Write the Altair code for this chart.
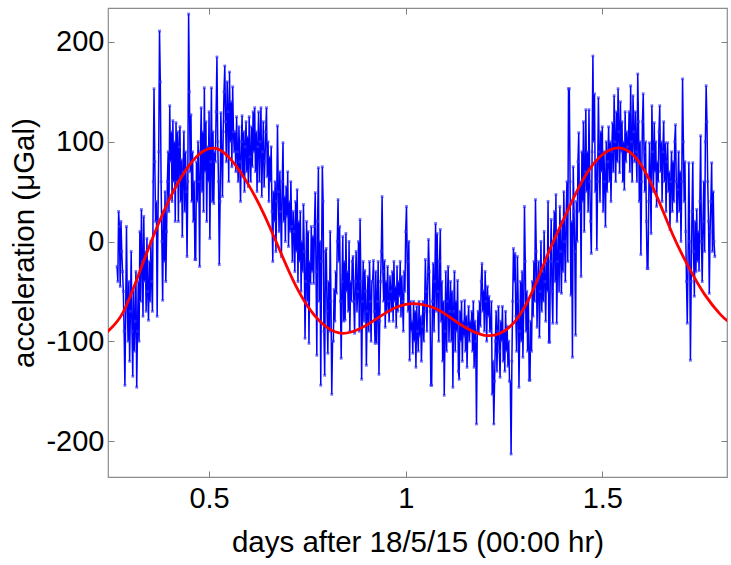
import altair as alt
import pandas as pd

# Gravimeter record: one sample every 0.002 day starting at day 0.266
SAMPLE_START = 0.266
SAMPLE_STEP = 0.002
measured = [
    -25, -40, 30, 15, -45, 20, -10, -30, -50, -90, -144, -70, 15, -60, -100, -40, -120, -70, -10, -90, -135, -50, -110, -80, -30,
    -146, -90, -40, -100, 10, -60, 32, -20, -75, 25, -40, -10, -70, 3, -50, -79, -20, -60, 0, -40, -70, 60, 153, 80, 20,
    40, -75, 20, 90, 211, 160, 60, 0, -59, 30, -20, 50, -40, 10, 60, 90, 30, 136, 80, 110, 40, 121, 60, 100, 20,
    119, 60, 110, 20, 95, 115, 40, 82, 5, 70, 110, 30, 90, 50, -15, 60, 228, 150, 70, 127, 40, 90, 20, 60, -18,
    -18, 80, 40, 100, 60, -25, 90, 134, 50, 110, 30, 154, 70, 120, 20, 95, 60, 130, 3, 80, 154, 40, 110, 38, 90,
    80, 130, 185, 100, 60, -23, 40, 129, 90, 45, 110, 150, 176, 120, 80, 160, 130, 60, 170, 100, 140, 75, 155, 110, 90,
    110, 70, 125, 90, 60, 115, 80, 40, 100, 126, 65, 110, 50, 95, 120, 70, 105, 55, 125, 85, 60, 115, 75, 130, 90,
    134, 70, 110, 50, 95, 130, 60, 100, 134, 45, 90, 120, 55, 80, 110, 134, 65, 100, 40, 85, 60, 95, 30, -20, 50,
    20, 60, -10, 40, 116, 50, 10, 70, 30, -15, 60, 99, 20, 45, 0, 55, 25, 70, -5, 40, 10, 60, 15, -20, 30,
    10, -30, 40, -10, 52, -40, 20, -20, 30, -50, 0, -30, 37, -10, -97, -40, 20, -60, 10, -102, -20, -42, 15, -30, 5,
    -42, 15, 49, -30, -114, 20, 74, -60, 0, -144, -20, 75, 40, -90, -134, -10, -7, -70, -112, -40, -90, 10, -60, -153, -100,
    -100, -48, -80, -30, -52, 0, 42, -20, 15, -60, -117, -40, 5, -80, -20, -79, 8, -50, -30, -70, 0, -90, -40, -60, -20,
    -15, -60, -92, -40, -10, -70, -50, 0, -90, 22, -40, -138, -60, -20, -80, -29, -50, -124, -70, -35, -90, -20, -60, -100, -40,
    -40, -19, -70, -102, -30, -102, -60, -20, -133, -80, -40, -10, 45, -30, -60, -19, -86, -40, -70, -25, -60, -80, -35, -50, -70,
    -30, -80, -20, -60, -45, -86, -25, -70, -40, -55, -20, -75, -35, -60, -90, -30, -50, 10, 35, -20, -70, 0, -119, -60, -90,
    -80, -112, -60, -100, -70, -126, -65, -90, -110, -60, -95, -75, -120, -85, -60, -100, -70, -18, -50, -90, -40, 2, -30, -70, -144,
    -144, -60, -22, -90, -40, 18, -70, 8, -50, -100, -20, 12, -80, -40, -120, -60, -154, -90, -30, -110, -60, -25, -100, -70, -40,
    -100, -50, -146, -70, -30, -110, -60, -90, -39, -130, -138, -70, -100, -60, -120, -80, -95, -59, -110, -75, -126, -85, -65, -100, -80,
    -90, -70, -110, -60, -126, -80, -100, -183, -90, -70, -92, -60, -85, -40, -22, -70, -49, -90, -30, -60, -100, -45, -75, -55, -90,
    -90, -60, -153, -120, -183, -140, -100, -70, -130, -90, -65, -110, -136, -80, -100, -65, -120, -90, -130, -70, -110, -85, -125, -100, -140,
    -140, -213, -120, -60, -7, -40, -12, -75, -110, -15, -60, -146, -90, -40, -100, -30, -116, -70, 35, -20, -90, -50, -110, -60, -139,
    -139, -80, -110, -40, -75, -20, -60, 42, -10, -86, -40, -20, -96, -50, 0, -70, -30, -60, 10, -40, -80, -20, -50, 40, -101,
    -101, -20, 22, -50, -82, 0, 30, -40, 47, -82, -20, 10, -50, 35, -10, -52, 20, -30, 50, 0, -40, 25, 60, -20, 153,
    153, 60, -54, 20, -116, 75, 30, -10, -94, 40, 0, 80, 109, 30, 60, -35, 90, 40, 120, 10, 70, 132, 50, 90, 30,
    132, 60, 20, -12, 90, 186, 100, 148, 50, 80, -8, 60, 144, 90, 40, 110, 70, 115, 30, 90, 60, 15, 100, 50, 80,
    115, 60, 100, 40, 90, 119, 70, 146, 100, 60, 130, 80, 153, 110, 69, 140, 90, 120, 60, 100, 52, 130, 80, 110, 95,
    90, 130, 70, 156, 100, 60, 146, 110, 80, 130, 90, 60, 168, 120, 40, 100, -13, 60, 120, 148, 90, 50, 100, 20, -27,
    -27, 40, 99, 60, 8, 136, 90, 50, 119, 70, 100, 35, 80, 60, 110, 136, 70, 100, 40, 90, 120, 60, 99, 30, 80,
    99, 50, 70, 12, 60, 90, 30, 80, 40, 100, 117, 60, 20, 52, 90, 30, 70, 0, 60, 163, 100, 40, 80, 10, -40,
    -82, -20, 79, 0, -119, -40, 30, 79, -10, -55, 20, -30, 32, -20, 10, -29, 40, 106, 0, -40, 20, 60, -10, 100, 156,
    120, 60, 20, -52, 10, 40, 79, -10, 50, 0, -15,
]

# Predicted tide
model_days = [0.24, 0.28, 0.32, 0.36, 0.40, 0.44, 0.48, 0.52, 0.56, 0.60, 0.64, 0.68, 0.72, 0.76,
              0.80, 0.84, 0.88, 0.92, 0.96, 1.00, 1.04, 1.08, 1.12, 1.16, 1.20, 1.24, 1.28, 1.32,
              1.36, 1.40, 1.44, 1.48, 1.52, 1.56, 1.60, 1.64, 1.68, 1.72, 1.76, 1.80, 1.82]
model_accel = [-91, -72, -34, 7, 43, 71, 89, 93, 80, 57, 27, -9, -44, -70,
               -86, -92, -88, -79, -69, -63, -63, -68, -78, -88, -94, -92, -79, -52,
               -14, 21, 54, 79, 92, 92, 76, 44, 6, -26, -53, -73, -80]

x_ticks = [0.5, 1, 1.5]
y_ticks = [-200, -100, 0, 100, 200]
x_range = [0.243, 1.817]
y_range = [-236, 234]

obs = pd.DataFrame({
    "day": [round(SAMPLE_START + i * SAMPLE_STEP, 4) for i in range(len(measured))],
    "accel": measured,
})
tide = pd.DataFrame({"day": model_days, "accel": model_accel})

FONT = "Liberation Sans"
xs = alt.Scale(domain=x_range, nice=False, zero=False)
ys = alt.Scale(domain=y_range, nice=False, zero=False)

tick_style = dict(domain=False, tickSize=6, tickColor="#7f7f7f", tickWidth=1, offset=-6, grid=False)

bottom_axis = alt.Axis(orient="bottom", values=x_ticks, labelExpr="datum.value + ''",
                       labelFont=FONT, labelFontSize=29, labelColor="#000000", labelPadding=7,
                       title="days after 18/5/15 (00:00 hr)", titleFont=FONT, titleFontSize=29.5,
                       titleFontWeight="normal", titleColor="#000000", titlePadding=15, **tick_style)
left_axis = alt.Axis(orient="left", values=y_ticks, labelExpr="datum.value + ''",
                     labelFont=FONT, labelFontSize=29, labelColor="#000000", labelPadding=4,
                     title="acceleration (\u03bcGal)", titleFont=FONT, titleFontSize=29.5,
                     titleFontWeight="normal", titleColor="#000000", titlePadding=6, **tick_style)
top_axis = alt.Axis(orient="top", values=x_ticks, labels=False, title=None, **tick_style)
right_axis = alt.Axis(orient="right", values=y_ticks, labels=False, title=None, **tick_style)

obs_line = alt.Chart(obs).mark_line(color="#0000ff", strokeWidth=1.5, clip=True).encode(
    x=alt.X("day:Q", scale=xs, axis=bottom_axis),
    y=alt.Y("accel:Q", scale=ys, axis=left_axis),
)
obs_pts = alt.Chart(obs).mark_point(shape="cross", angle=45, size=12, filled=True,
                                    color="#3030ff", opacity=0.7, clip=True).encode(
    x=alt.X("day:Q", scale=xs, axis=None),
    y=alt.Y("accel:Q", scale=ys, axis=None),
)
tide_line = alt.Chart(tide).mark_line(color="#ff0000", strokeWidth=2.8, interpolate="natural",
                                      clip=True).encode(
    x=alt.X("day:Q", scale=xs, axis=top_axis),
    y=alt.Y("accel:Q", scale=ys, axis=right_axis),
)

chart = (
    alt.layer(obs_line, obs_pts, tide_line)
    .resolve_axis(x="independent", y="independent")
    .properties(width=619, height=469,
                padding={"left": 108, "top": 8, "right": 4, "bottom": 88},
                autosize=alt.AutoSizeParams(type="none"),
                background="#ffffff")
    .configure_view(stroke="#8c8c8c", strokeWidth=1.2)
)

chart.save("out.html", embed_options={"renderer": "svg", "actions": False})
